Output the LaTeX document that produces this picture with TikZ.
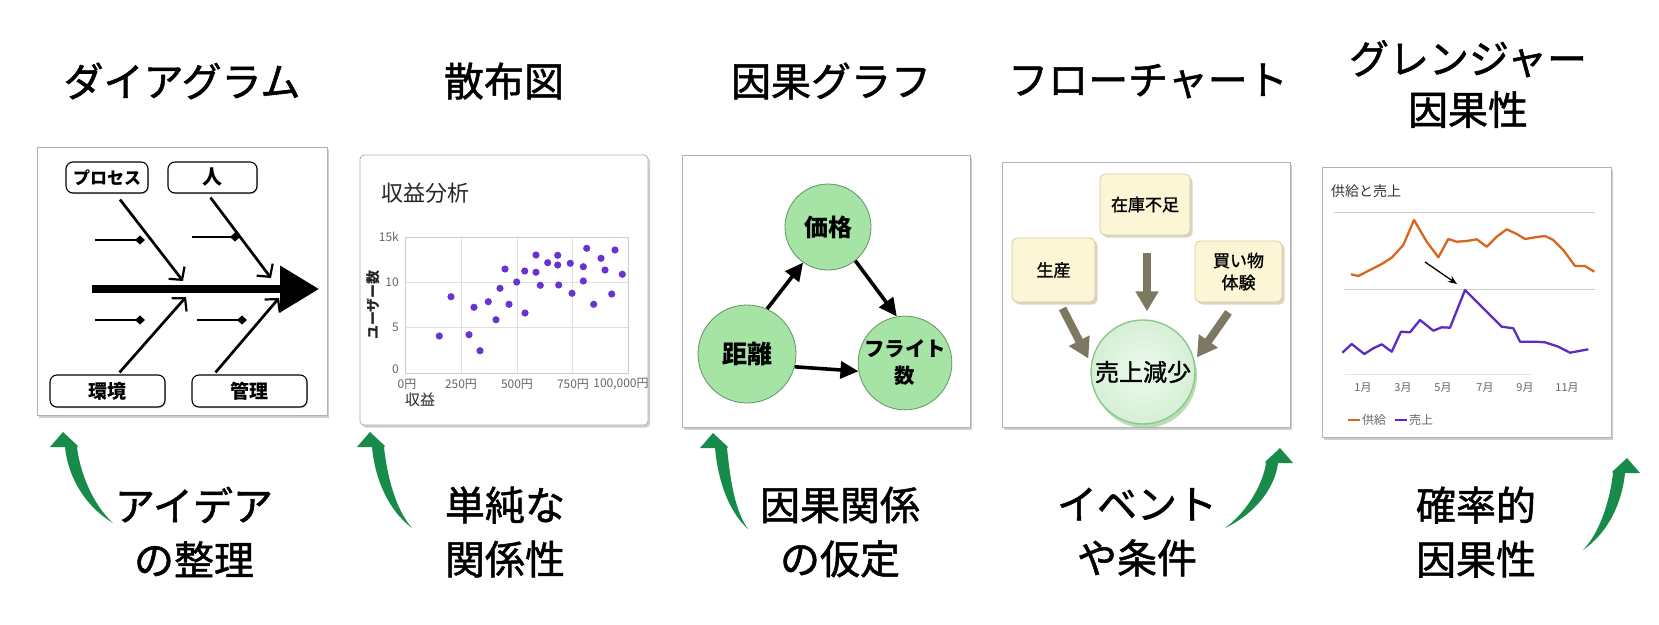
\documentclass[tikz,border=0pt]{standalone}
\usepackage{fontspec}
\setmainfont{Noto Sans CJK JP}
\newfontfamily\medfont[FakeBold=1.3]{Noto Sans CJK JP}
\usetikzlibrary{arrows.meta,shadows}
\definecolor{gcol}{RGB}{24,138,74}
\definecolor{dotc}{RGB}{104,52,208}
\definecolor{orng}{RGB}{216,102,32}
\definecolor{purp}{RGB}{92,44,190}
\definecolor{cgreen}{RGB}{166,228,166}
\definecolor{cgreenD}{RGB}{96,146,96}
\definecolor{cream}{RGB}{252,245,214}
\definecolor{creamD}{RGB}{214,204,160}
\definecolor{olive}{RGB}{124,120,98}
\definecolor{lgreen}{RGB}{226,246,226}
\definecolor{lgreenD}{RGB}{140,200,140}
\newcommand\fsz[2]{\fontsize{#1}{#2}\selectfont}
\newcommand\garrow[5]{%
  \begin{scope}[shift={(#1,#2)},xscale=#5]
    \fill[gcol] (0,0) -- (15,14) -- (14,15)
      .. controls (17,0.45*#4) and (0.6*#3,0.8*#4) .. (#3,#4)
      .. controls (0.45*#3,0.82*#4) and (5,0.5*#4) .. (2,15)
      -- (-13,15) -- cycle;
  \end{scope}}
\begin{document}
\begin{tikzpicture}[x=1pt,y=-1pt,
  title/.style={font=\medfont\fsz{40}{51}, align=center, inner sep=0pt},
  lab/.style={font=\medfont\fsz{40}{54}, align=center, inner sep=0pt},
  panel/.style={draw=black!30, fill=white, line width=0.8pt,
    drop shadow={shadow xshift=2pt, shadow yshift=-2.5pt, opacity=0.35, fill=black!55}},
  fbbox/.style={draw=black, fill=white, rounded corners=7pt, line width=1.1pt, inner sep=0pt,
    drop shadow={shadow xshift=1pt, shadow yshift=-1pt, opacity=0.3, fill=black!60}},
  bone/.style={line width=2.7pt, -{Straight Barb[length=9pt,width=20pt,line width=2.2pt]}},
  sub/.style={line width=1.5pt, -{Diamond[length=10pt,width=9pt]}},
  gcirc/.style={circle, draw=cgreenD, fill=cgreen, line width=0.8pt, inner sep=0pt, font=\bfseries},
  carrow/.style={line width=3.6pt, -{Triangle[length=18pt,width=17pt]}},
  fcbox/.style={draw=creamD, fill=cream, rounded corners=5pt, line width=0.8pt, inner sep=0pt,
    font=\medfont\fsz{17}{22}, align=center,
    drop shadow={shadow xshift=2.5pt, shadow yshift=-2.5pt, opacity=0.45, fill=creamD!80!black}},
  blockarrow/.style={line width=8pt, olive, -{Triangle[length=20pt,width=22pt]}},
  axl/.style={font=\fsz{12}{14}, text=black!60, inner sep=0pt},
  mlab/.style={font=\fsz{11}{13}, text=black!60, inner sep=0pt}
]
\useasboundingbox (0,0) rectangle (1659,624);
\fill[white] (0,0) rectangle (1659,624);

% ---------- titles ----------
\node[title] (t1) at (182,81) {ダイアグラム};
\node[title] (t2) at (504,81) {散布図};
\node[title] (t3) at (831,81) {因果グラフ};
\node[title] (t4) at (1148,81) {フローチャート};
\node[title] (t5) at (1468,84) {グレンジャー\\因果性};

% ---------- panel 1: fishbone ----------
\path[panel] (37,147) rectangle (327,415);
\node[fbbox, minimum width=82pt, minimum height=31pt, font=\fsz{17}{20}\bfseries] (proc) at (107,177.5) {プロセス};
\node[fbbox, minimum width=89pt, minimum height=31pt, font=\fsz{20}{22}\bfseries] (hito) at (212.5,177.5) {人};
\node[fbbox, minimum width=115pt, minimum height=32pt, font=\fsz{19}{22}\bfseries] (kankyo) at (107.5,391) {環境};
\node[fbbox, minimum width=115pt, minimum height=32pt, font=\fsz{19}{22}\bfseries] (kanri) at (249.5,391) {管理};
\coordinate (sp0) at (92,289);
\coordinate (sp1) at (319,289);
\draw[line width=7.5pt, -{Triangle[length=39pt,width=45pt]}] (sp0) -- (sp1);
\coordinate (pe) at (183,281);
\coordinate (he) at (271,278);
\coordinate (ke) at (186,297);
\coordinate (me) at (279,298);
\draw[bone] ([xshift=13pt,yshift=-6pt]proc.south) -- (pe);
\draw[bone] ([xshift=-2pt,yshift=-4pt]hito.south) -- (he);
\draw[bone] ([xshift=12pt,yshift=2pt]kankyo.north) -- (ke);
\draw[bone] ([xshift=-34pt,yshift=2pt]kanri.north) -- (me);
\coordinate (s1a) at (95,240); \coordinate (s1b) at (145,240);
\coordinate (s2a) at (192,237); \coordinate (s2b) at (240,237);
\coordinate (s3a) at (95,320); \coordinate (s3b) at (145,320);
\coordinate (s4a) at (197,320); \coordinate (s4b) at (247,320);
\draw[sub] (s1a) -- (s1b);
\draw[sub] (s2a) -- (s2b);
\draw[sub] (s3a) -- (s3b);
\draw[sub] (s4a) -- (s4b);

% ---------- panel 2: scatter ----------
\path[panel, rounded corners=4pt, drop shadow={opacity=0}] (360,155) rectangle (648,425);
\node[anchor=west, inner sep=0pt, font=\fsz{22}{26}, text=black!85] (sctitle) at (381,193) {収益分析};
\foreach \gx in {461,517,572} \draw[black!12, line width=0.8pt] (\gx,237) -- (\gx,373);
\foreach \gy in {282,327} \draw[black!12, line width=0.8pt] (405,\gy) -- (628,\gy);
\draw[black!20, line width=1pt] (405,237) rectangle (628,373);
\node[axl, anchor=east] (y15) at (399,237) {15k};
\node[axl, anchor=east] (y10) at (399,282) {10};
\node[axl, anchor=east] (y5) at (399,327) {5};
\node[axl, anchor=east] (y0) at (399,369) {0};
\node[axl] (x0) at (407,384) {0円};
\node[axl] (x250) at (461,384) {250円};
\node[axl] (x500) at (517,384) {500円};
\node[axl] (x750) at (573,384) {750円};
\node[axl] (x1000) at (621,384) {100,000円};
\node[inner sep=0pt, font=\fsz{15}{17}, text=black!85] (xlab) at (420,400) {収益};
\node[inner sep=0pt, font=\fsz{14}{16}\bfseries, text=black!85, rotate=90] (ylab) at (373,305) {ユーザー数};
\foreach \px/\py in {439.3/336,451/296.7,469/334.7,474/307.3,480/350.7,488.3/301.7,496/319.7,500/288.3,505/269,509/304.3,516.7/282,525/313,524.7/271,536/255,536/272.3,540.3/285.3,547.7/262.7,557.7/255.3,557.7/265,558.7/285,570.3/263.3,572/293.3,583.3/266.7,583.3/281,586.7/248.3,593.7/304.3,601/258.3,605/270,611.7/294,615/250,622.3/274.3}
  \fill[dotc] (\px,\py) circle (3.6);

% ---------- panel 3: causal graph ----------
\path[panel] (682,155) rectangle (970,427);
\node[gcirc, minimum size=86pt, font=\fsz{24}{26}\bfseries] (kakaku) at (828,227) {価格};
\node[gcirc, minimum size=98pt, font=\fsz{25}{27}\bfseries] (kyori) at (747,354) {距離};
\node[gcirc, minimum size=84pt, font=\fsz{20.5}{27}\bfseries, align=center] (flight) at (905,363) {フライト\\数};
\draw[carrow] (kyori.66) -- (kakaku.235);
\draw[carrow] (kakaku.-51) -- (flight.100);
\draw[carrow] (kyori.-15) -- (flight.190);

% ---------- panel 4: flowchart ----------
\path[panel] (1002,162) rectangle (1290,427);
\node[fcbox, minimum width=90pt, minimum height=61pt] (zaiko) at (1145,204.5) {在庫不足};
\node[fcbox, minimum width=83pt, minimum height=64pt] (seisan) at (1053.5,270) {生産};
\node[fcbox, minimum width=87pt, minimum height=61pt] (kaimono) at (1238.5,271.5) {買い物\\体験};
\node[circle, minimum size=104pt, inner sep=0pt, draw=lgreenD, line width=1.4pt,
  inner color=white!40!lgreen, outer color=lgreen!85!lgreenD, font=\medfont\fsz{24}{26},
  drop shadow={shadow xshift=2pt, shadow yshift=-4pt, opacity=0.6, fill=lgreenD}] (uriage) at (1143,372) {売上減少};
\draw[blockarrow] ([xshift=9pt,yshift=-6pt]seisan.south) -- ([xshift=-4pt,yshift=-1pt]uriage.164);
\draw[blockarrow] ([xshift=2pt,yshift=-18pt]zaiko.south) -- ([xshift=4pt,yshift=8pt]uriage.north);
\draw[blockarrow] ([xshift=-10pt,yshift=-10pt]kaimono.south) -- ([xshift=3pt,yshift=1pt]uriage.15);

% ---------- panel 5: granger ----------
\path[panel] (1322,167) rectangle (1611,437);
\node[anchor=west, inner sep=0pt, font=\fsz{14}{16}, text=black!80] (gtitle) at (1331,191) {供給と売上};
\draw[black!20, line width=0.9pt] (1334,212) -- (1595,212);
\draw[black!20, line width=0.9pt] (1344,289) -- (1595,289);
\draw[black!10, line width=0.9pt] (1345,374) -- (1532,374);
\draw[orng, line width=2.3pt, line join=round] (1351,274.3) -- (1358.3,276) -- (1370,270) -- (1381.7,264) -- (1391.7,257.7) -- (1403.3,245) -- (1414,220) -- (1426.7,241.7) -- (1438.3,257.3) -- (1448.3,239) -- (1456.7,241.7) -- (1466.7,241) -- (1476.7,239.3) -- (1486.7,246.7) -- (1496.7,236.7) -- (1506.7,229.3) -- (1516.7,234) -- (1525,239) -- (1535,237.3) -- (1545,236) -- (1553.3,240) -- (1563.3,250) -- (1575,266) -- (1585,266) -- (1594.3,271.7);
\draw[purp, line width=2.3pt, line join=round] (1342.3,352.7) -- (1351.7,344) -- (1364.3,354) -- (1373.3,348.3) -- (1381.7,344.3) -- (1391.7,351.7) -- (1401,331.7) -- (1410,332.3) -- (1420,320) -- (1433.3,330.7) -- (1441.7,327.3) -- (1450,327.7) -- (1465,290) -- (1481.7,306.7) -- (1501.7,326.7) -- (1513.3,328.3) -- (1520,341.7) -- (1535,341.7) -- (1545,342.3) -- (1558.3,346.7) -- (1570,352.7) -- (1588.3,349.3);
\coordinate (ga) at (1425,262);
\coordinate (gb) at (1457,284);
\draw[line width=1.3pt, -{Stealth[length=9pt,width=7pt]}] (ga) -- (gb);
\node[mlab] (m1) at (1363,388) {1月};
\node[mlab] (m3) at (1403,388) {3月};
\node[mlab] (m5) at (1443,388) {5月};
\node[mlab] (m7) at (1485,388) {7月};
\node[mlab] (m9) at (1525,388) {9月};
\node[mlab] (m11) at (1567,388) {11月};
\draw[orng, line width=2.5pt] (1348,420) -- (1360,420);
\node[mlab, anchor=west, font=\fsz{12}{14}] (lg1) at (1362,420) {供給};
\draw[purp, line width=2.5pt] (1395,420) -- (1407,420);
\node[mlab, anchor=west, font=\fsz{12}{14}] (lg2) at (1409,420) {売上};

% ---------- bottom labels ----------
\node[lab] (b1) at (194,532) {アイデア\\の整理};
\node[lab] (b2) at (505,532) {単純な\\関係性};
\node[lab] (b3) at (840,532) {因果関係\\の仮定};
\node[lab] (b4) at (1137,532) {イベント\\や条件};
\node[lab] (b5) at (1476,532) {確率的\\因果性};

% ---------- green arrows ----------
\garrow{63}{432}{50}{91}{1}
\garrow{370}{432}{42}{96}{1}
\garrow{713}{433}{35}{96}{1}
\garrow{1280}{448}{55}{80}{-1}
\garrow{1627}{458}{44}{92}{-1}
\end{tikzpicture}
\end{document}
